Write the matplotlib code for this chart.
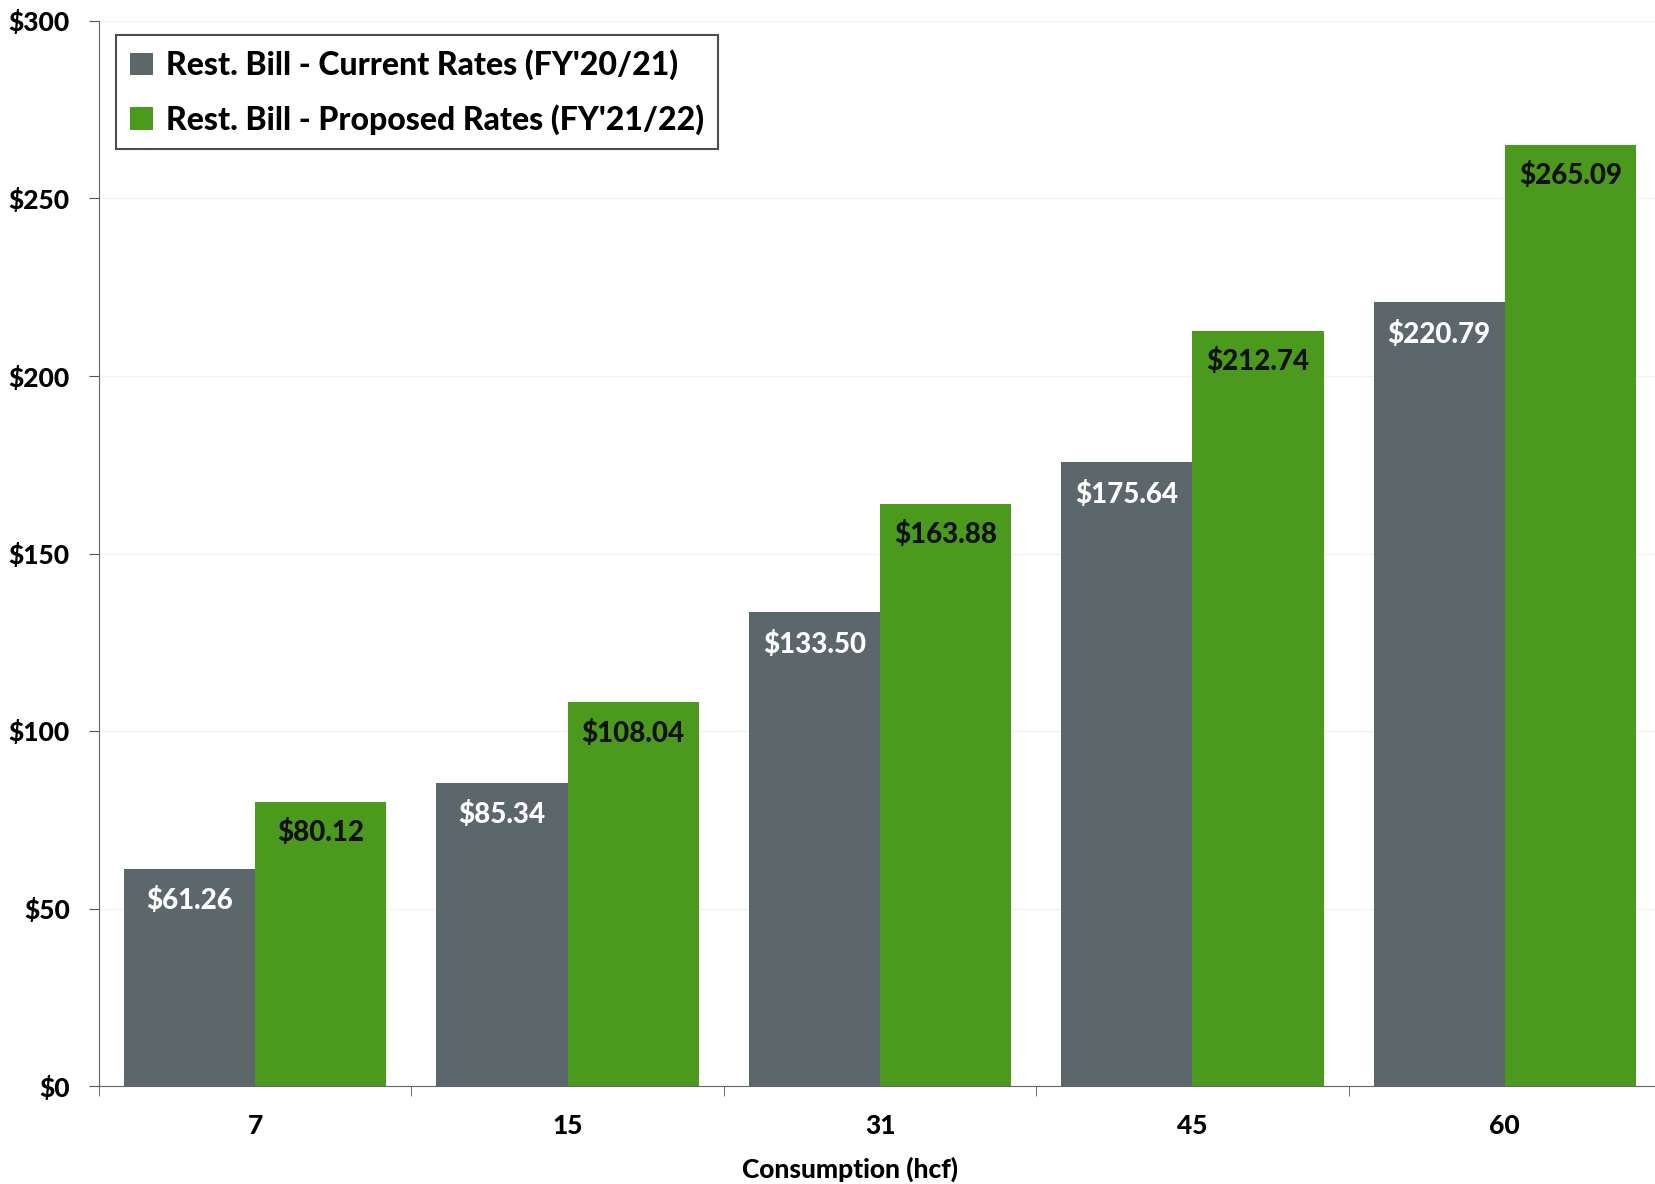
import matplotlib
matplotlib.use("Agg")
import matplotlib.pyplot as plt
import numpy as np
from matplotlib.ticker import FuncFormatter

categories = ["7", "15", "31", "45", "60"]
current = [61.26, 85.34, 133.50, 175.64, 220.79]
proposed = [80.12, 108.04, 163.88, 212.74, 265.09]
series_names = ["Rest. Bill - Current Rates (FY'20/21)", "Rest. Bill - Proposed Rates (FY'21/22)"]
y_ticks = [0, 50, 100, 150, 200, 250, 300]

plt.rcParams['font.family'] = ['Lato', 'DejaVu Sans']
WEIGHT = 900
plt.rcParams['font.weight'] = WEIGHT

GREY = '#5c676c'
GREEN = '#4c9a1d'

fig = plt.figure(figsize=(16.56, 11.84), dpi=100)
W, H = 1656, 1184
left, right, top, bottom = 99, 1661, 21, 1086
ax = fig.add_axes([left / W, 1 - bottom / H, (right - left) / W, (bottom - top) / H])

x = np.arange(len(categories))
bw = 0.42
b1 = ax.bar(x - bw / 2, current, bw, color=GREY, label=series_names[0], zorder=2)
b2 = ax.bar(x + bw / 2, proposed, bw, color=GREEN, label=series_names[1], zorder=2)

for rect, v in zip(b1, current):
    ax.annotate(f"${v:.2f}", (rect.get_x() + rect.get_width() / 2, v), xytext=(0, -23),
                textcoords='offset points', ha='center', va='center', color='white',
                fontsize=20, fontweight=WEIGHT, zorder=3)
for rect, v in zip(b2, proposed):
    ax.annotate(f"${v:.2f}", (rect.get_x() + rect.get_width() / 2, v), xytext=(0, -22),
                textcoords='offset points', ha='center', va='center', color='#111111',
                fontsize=20, fontweight=WEIGHT, zorder=3)

ax.set_xlim(-0.5, 4.5)
ax.set_ylim(0, 300)
ax.set_yticks(y_ticks)
ax.yaxis.set_major_formatter(FuncFormatter(lambda v, p: f"${v:.0f}"))
ax.set_xticks(x)
ax.set_xticklabels(categories)
ax.set_xticks(np.arange(-0.5, 4.6, 1.0), minor=True)
ax.tick_params(axis='x', which='major', length=0, pad=20, labelsize=19)
ax.tick_params(axis='x', which='minor', length=7, color='#555555', direction='out')
ax.tick_params(axis='y', length=7, color='#555555', labelsize=19, pad=14)
for lbl in ax.get_xticklabels() + ax.get_yticklabels():
    lbl.set_fontweight(WEIGHT)

ax.set_xlabel("Consumption (hcf)", fontsize=19, fontweight=WEIGHT)
ax.xaxis.set_label_coords(0.481, -0.066)

for s in ['top', 'right']:
    ax.spines[s].set_visible(False)
ax.spines['left'].set_color('#666666')
ax.spines['bottom'].set_color('#666666')
ax.yaxis.grid(True, color='#f2f2f2', linewidth=1, zorder=0)
ax.set_axisbelow(True)

leg = ax.legend(loc='upper left', bbox_to_anchor=((116 - left) / (right - left), 1 - (35 - top) / (bottom - top)),
                prop={'size': 23, 'weight': WEIGHT}, frameon=True, fancybox=False, edgecolor='#222222',
                handlelength=0.7, handleheight=0.7, handletextpad=0.4, borderpad=0.45,
                labelspacing=0.75, borderaxespad=0)
leg.get_frame().set_linewidth(1.5)

fig.savefig("out.png", dpi=100)
